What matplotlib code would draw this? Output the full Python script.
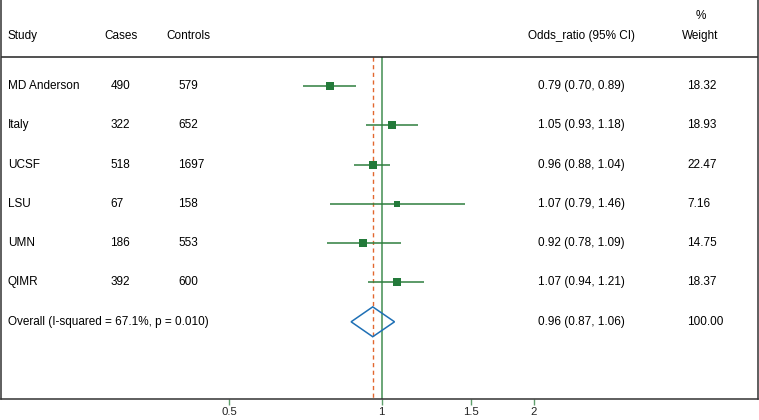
import numpy as np
import matplotlib
matplotlib.use('Agg')
import matplotlib.pyplot as plt
from matplotlib.patches import Polygon
from matplotlib import transforms

plt.rcParams['font.family'] = ['Liberation Sans', 'DejaVu Sans']
plt.rcParams['font.size'] = 8.5

# data
studies = ['MD Anderson', 'Italy', 'UCSF', 'LSU', 'UMN', 'QIMR']
cases = [490, 322, 518, 67, 186, 392]
controls = [579, 652, 1697, 158, 553, 600]
odds = [0.79, 1.05, 0.96, 1.07, 0.92, 1.07]
lo = [0.70, 0.93, 0.88, 0.79, 0.78, 0.94]
hi = [0.89, 1.18, 1.04, 1.46, 1.09, 1.21]
weights = [18.32, 18.93, 22.47, 7.16, 14.75, 18.37]
overall_label = 'Overall (I-squared = 67.1%, p = 0.010)'
overall_or, overall_lo, overall_hi = 0.96, 0.87, 1.06
xticks = [0.5, 1, 1.5, 2]

W, H = 759, 420
fig = plt.figure(figsize=(W / 100, H / 100), dpi=100)
ax = fig.add_axes([0.5 / W, (H - 399.3) / H, 757 / W, 399.3 / H])

ax.set_xscale('log')
ax.set_xlim(0.1765, 5.528)
ax.set_ylim(7.972, -2.188)


def col(px):
    return (px - 0.5) / 757


tr = transforms.blended_transform_factory(ax.transAxes, ax.transData)

green_ci = '#2f7f3f'
green_sq = '#237a3a'
green_null = '#5f9f6c'
orange = '#e2672f'
blue = '#1f70b5'

header_y = -0.746
n = len(studies)
overall_row = n

# reference lines
ax.axhline(header_y, color='#222222', lw=1.1)
ax.vlines(1, header_y, 7.972, color=green_null, lw=1.3, zorder=1)
ax.vlines(overall_or, header_y, 7.972, color=orange, lw=1.0,
          linestyles=(0, (3, 2.5)), zorder=1)

# studies
for i in range(n):
    ax.hlines(i, lo[i], hi[i], color=green_ci, lw=1.1, zorder=2)
    side = 3.0 + 1.1 * np.sqrt(weights[i])
    ax.plot(odds[i], i, marker='s', color=green_sq, ms=side * 0.72, mew=0, zorder=3)
    ax.text(col(8), i, studies[i], transform=tr, va='center', ha='left')
    ax.text(col(110.5), i, str(cases[i]), transform=tr, va='center', ha='left')
    ax.text(col(178.3), i, str(controls[i]), transform=tr, va='center', ha='left')
    ax.text(col(538.3), i, '%.2f (%.2f, %.2f)' % (odds[i], lo[i], hi[i]),
            transform=tr, va='center', ha='left')
    ax.text(col(687), i, '%.2f' % weights[i], transform=tr, va='center', ha='left')

# overall diamond
dh = 0.38
diamond = Polygon([[overall_lo, overall_row], [overall_or, overall_row - dh],
                   [overall_hi, overall_row], [overall_or, overall_row + dh]],
                  closed=True, fill=False, edgecolor=blue, lw=1.1, zorder=4)
ax.add_patch(diamond)
ax.text(col(8), overall_row, overall_label, transform=tr, va='center', ha='left')
ax.text(col(538.3), overall_row, '%.2f (%.2f, %.2f)' % (overall_or, overall_lo, overall_hi),
        transform=tr, va='center', ha='left')
ax.text(col(687), overall_row, '%.2f' % sum(weights), transform=tr, va='center', ha='left')

# headers
hy = -1.28
ax.text(col(8), hy, 'Study', transform=tr, va='center', ha='left')
ax.text(col(104), hy, 'Cases', transform=tr, va='center', ha='left')
ax.text(col(166.3), hy, 'Controls', transform=tr, va='center', ha='left')
ax.text(col(528.3), hy, 'Odds_ratio (95% CI)', transform=tr, va='center', ha='left')
ax.text(col(700.6), hy, 'Weight', transform=tr, va='center', ha='center')
ax.text(col(700.6), -1.79, '%', transform=tr, va='center', ha='center')

# axes styling
for s in ['left', 'right', 'bottom']:
    ax.spines[s].set_color('#333333')
    ax.spines[s].set_linewidth(1.1)
ax.spines['top'].set_visible(False)
ax.set_yticks([])
ax.minorticks_off()
ax.set_xticks(xticks)
ax.set_xticklabels(['0.5', '1', '1.5', '2'])
ax.tick_params(axis='x', which='major', length=4.5, width=1.0, color=green_null,
               pad=1.0, labelsize=8.2, labelcolor='#222222')
ax.tick_params(axis='x', which='minor', length=0)

fig.savefig('out.png', dpi=100)
